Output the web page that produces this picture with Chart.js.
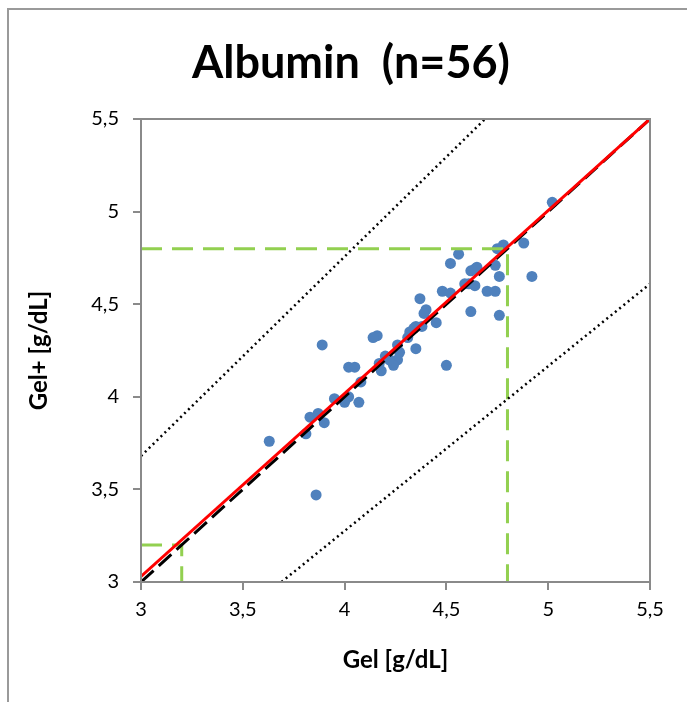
<!DOCTYPE html>
<html>
<head>
<meta charset="utf-8">
<script src="https://cdn.jsdelivr.net/npm/chart.js@4"></script>
<style>
  html, body { margin: 0; padding: 0; background: #fff; overflow: hidden; }
  #wrap { position: relative; width: 687px; height: 702px; }
  #frame {
    position: absolute; left: 7px; top: 8px; width: 720px; height: 720px;
    border-left: 2px solid #9a9a9a; border-top: 2px solid #9a9a9a;
    pointer-events: none;
  }
  canvas { position: absolute; left: 0; top: 0; }
</style>
</head>
<body>
<div id="wrap">
  <canvas id="chart" width="687" height="702"></canvas>
  <div id="frame"></div>
</div>
<script>
'use strict';

// Albumin, Gel vs Gel+ (g/dL)
const gelValues = [
  5.02, 4.88, 4.78, 4.75, 4.56, 4.52, 4.65, 4.62, 4.74, 4.76,
  4.92, 4.59, 4.61, 4.64, 4.48, 4.52, 4.70, 4.74, 4.37, 4.40,
  4.39, 4.62, 4.76, 4.45, 4.38, 4.35, 4.32, 4.31, 4.26, 4.35,
  4.27, 4.16, 4.14, 3.89, 4.20, 4.17, 4.26, 4.24, 4.18, 4.50,
  4.02, 4.05, 4.08, 3.95, 4.02, 4.00, 4.07, 3.83, 3.87, 3.90,
  3.81, 3.63, 3.86, 4.34, 4.64, 4.22
];
const gelPlusValues = [
  5.05, 4.83, 4.82, 4.80, 4.77, 4.72, 4.70, 4.68, 4.71, 4.65,
  4.65, 4.61, 4.61, 4.60, 4.57, 4.56, 4.57, 4.57, 4.53, 4.47,
  4.45, 4.46, 4.44, 4.40, 4.38, 4.38, 4.35, 4.32, 4.28, 4.26,
  4.24, 4.33, 4.32, 4.28, 4.22, 4.18, 4.20, 4.17, 4.14, 4.17,
  4.16, 4.16, 4.08, 3.99, 4.00, 3.97, 3.97, 3.89, 3.91, 3.86,
  3.80, 3.76, 3.47, 4.37, 4.69, 4.20
];

// reference lines
const identityX = [3, 5.5];
const identityY = [3, 5.5];
const fitX = [3, 5.5];
const fitY = [3.03, 5.50];
const upperLimitX = [3, 4.69];
const upperLimitY = [3.68, 5.5];
const lowerLimitX = [3.69, 5.5];
const lowerLimitY = [3, 4.61];
const cutoffHighX = [3, 4.8, 4.8];
const cutoffHighY = [4.8, 4.8, 3];
const cutoffLowX = [3, 3.2, 3.2];
const cutoffLowY = [3.2, 3.2, 3];

const tickValues = [3, 3.5, 4, 4.5, 5, 5.5];
const heading = 'Albumin  (n=56)';

function pairs(xs, ys) {
  return xs.map((x, i) => ({ x: x, y: ys[i] }));
}

function commaTick(v) {
  return String(v).replace('.', ',');
}

const FONT = 'Lato, "Open Sans", sans-serif';
const GREEN = '#92D050';
const AXIS_GREY = '#8a8a8a';

// box round the plot area
const plotFrame = {
  id: 'plotFrame',
  afterDatasetsDraw(chart) {
    const a = chart.chartArea;
    const ctx = chart.ctx;
    ctx.save();
    ctx.strokeStyle = AXIS_GREY;
    ctx.lineWidth = 2;
    ctx.strokeRect(a.left, a.top, a.right - a.left, a.bottom - a.top);
    ctx.restore();
  }
};

// heading sits over the middle of the whole chart box, not the plot
const chartHeading = {
  id: 'chartHeading',
  afterDraw(chart) {
    const ctx = chart.ctx;
    ctx.save();
    ctx.font = 'bold 45px ' + FONT;
    ctx.fillStyle = '#000';
    ctx.textAlign = 'center';
    ctx.textBaseline = 'middle';
    ctx.fillText(heading, 351, 63);
    ctx.restore();
  }
};

function guide(data, color, width, dash, order) {
  return {
    type: 'line',
    data: data,
    borderColor: color,
    borderWidth: width,
    borderDash: dash,
    pointRadius: 0,
    fill: false,
    tension: 0,
    order: order
  };
}

const ctx = document.getElementById('chart').getContext('2d');
new Chart(ctx, {
  type: 'scatter',
  data: {
    datasets: [
      {
        label: 'Albumin',
        data: pairs(gelValues, gelPlusValues),
        backgroundColor: '#4F81BD',
        borderWidth: 0,
        pointRadius: 5.5,
        order: 6
      },
      guide(pairs(cutoffHighX, cutoffHighY), GREEN, 3, [21, 10], 5),
      guide(pairs(cutoffLowX, cutoffLowY), GREEN, 3, [21, 10], 5),
      guide(pairs(upperLimitX, upperLimitY), '#000', 2.5, [2, 3.5], 4),
      guide(pairs(lowerLimitX, lowerLimitY), '#000', 2.5, [2, 3.5], 4),
      guide(pairs(identityX, identityY), '#000', 3, [17, 7], 3),
      guide(pairs(fitX, fitY), '#FF0000', 3, [], 2)
    ]
  },
  options: {
    responsive: false,
    animation: false,
    layout: { padding: { left: 0, right: 37, top: 119, bottom: 0 } },
    plugins: {
      legend: { display: false },
      tooltip: { enabled: false },
      title: { display: false }
    },
    scales: {
      x: {
        type: 'linear',
        min: 3,
        max: 5.5,
        afterBuildTicks(scale) {
          scale.ticks = tickValues.map(v => ({ value: v }));
        },
        afterFit(scale) { scale.height = 120; },
        grid: { drawOnChartArea: false, drawTicks: true, tickLength: 8, color: AXIS_GREY, lineWidth: 2 },
        border: { color: AXIS_GREY, width: 2 },
        ticks: {
          color: '#000',
          padding: 8,
          font: { family: FONT, size: 20 },
          callback: commaTick
        },
        title: {
          display: true,
          text: 'Gel [g/dL]',
          color: '#000',
          font: { family: FONT, size: 24, weight: 'bold', lineHeight: 1.2 },
          padding: { top: 0, bottom: 27 }
        }
      },
      y: {
        type: 'linear',
        min: 3,
        max: 5.5,
        afterBuildTicks(scale) {
          scale.ticks = tickValues.map(v => ({ value: v }));
        },
        afterFit(scale) { scale.width = 141; },
        grid: { drawOnChartArea: false, drawTicks: true, tickLength: 8, color: AXIS_GREY, lineWidth: 2 },
        border: { color: AXIS_GREY, width: 2 },
        ticks: {
          color: '#000',
          padding: 14,
          font: { family: FONT, size: 20 },
          callback: commaTick
        },
        title: {
          display: true,
          text: 'Gel+ [g/dL]',
          color: '#000',
          font: { family: FONT, size: 24, weight: 'bold', lineHeight: 1.2 },
          padding: { top: 25, bottom: 0 }
        }
      }
    }
  },
  plugins: [plotFrame, chartHeading]
});
</script>
</body>
</html>
